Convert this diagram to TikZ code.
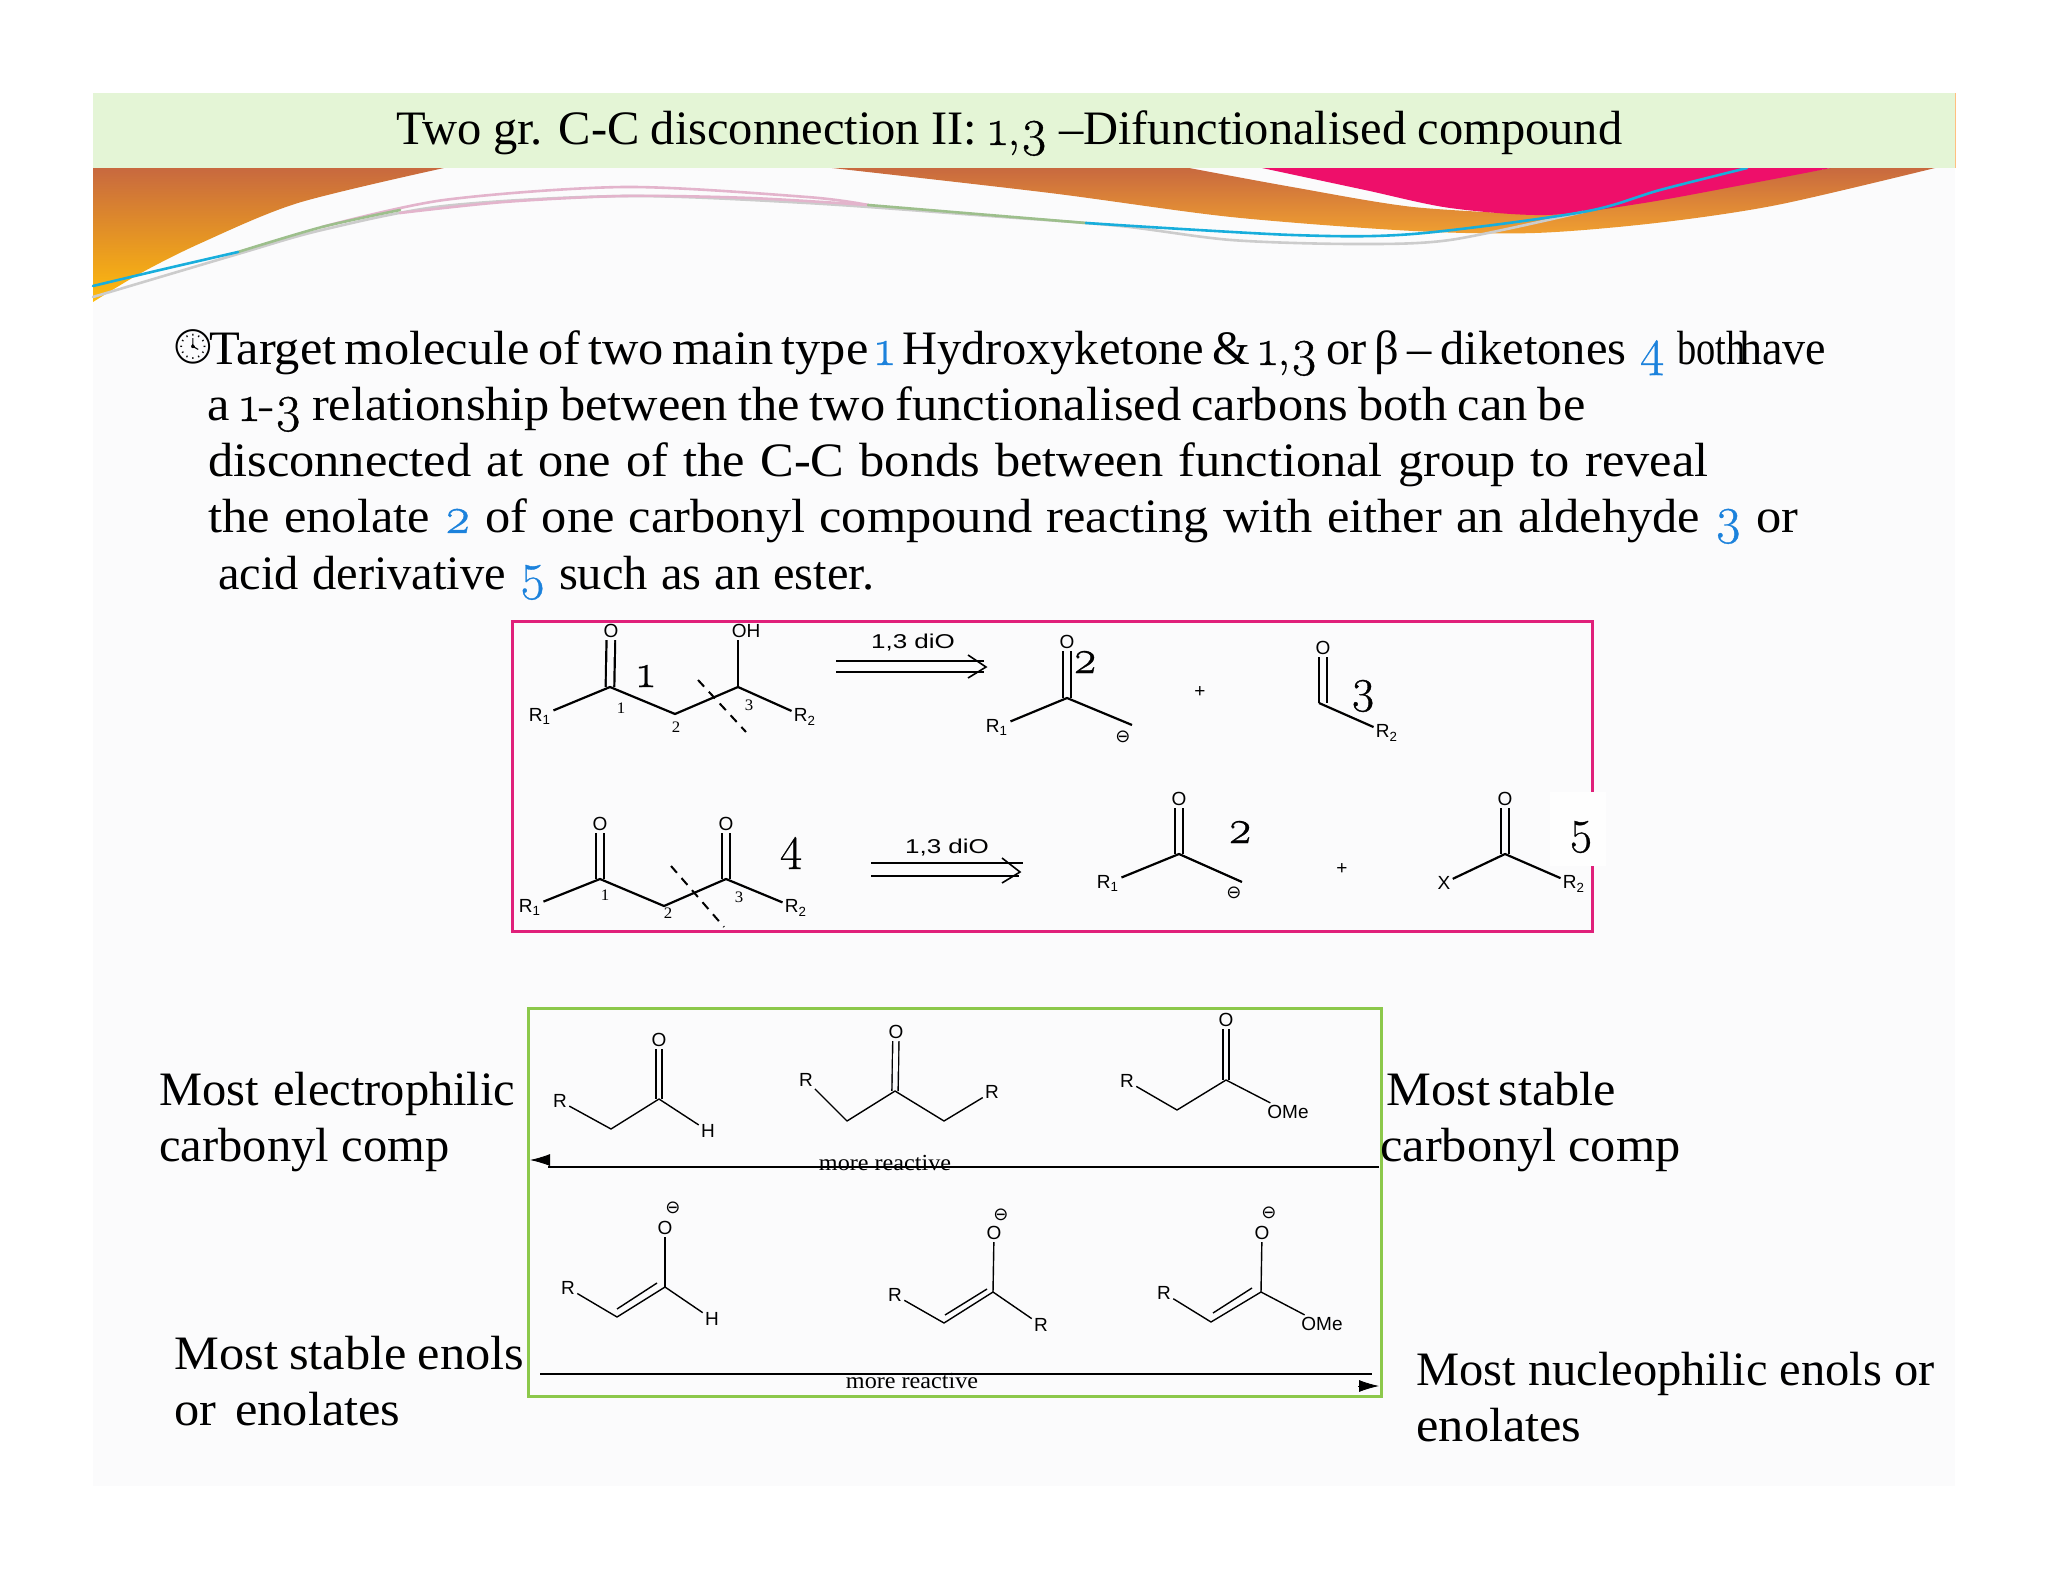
\documentclass[tikz,border=0pt]{standalone}
\usepackage{fontspec}
\usetikzlibrary{arrows.meta}
\setmainfont[FakeStretch=1.05]{Liberation Serif}
\newfontfamily\midfont[FakeStretch=1.01]{Liberation Serif}
\newfontfamily\tightfont[FakeStretch=0.8]{Liberation Serif}
\newfontfamily\havefont[FakeStretch=0.96]{Liberation Serif}
\newfontfamily\osffont[Numbers=OldStyle,Scale=1.08,FakeBold=0.7]{Latin Modern Roman}
\newfontfamily\chemfont{Liberation Sans}
\newfontfamily\chemwide[FakeStretch=1.3]{Liberation Sans}
\newfontfamily\signfont{DejaVu Sans}
\newfontfamily\emojifont{Noto Emoji}
\definecolor{slidebg}{HTML}{FBFBFC}
\definecolor{bandgreen}{HTML}{E4F5D6}
\definecolor{swooshtop}{HTML}{C8693F}
\definecolor{swooshorange}{HTML}{F0A030}
\definecolor{swooshyellow}{HTML}{FFBC0C}
\definecolor{swooshpink}{HTML}{EE0F6A}
\definecolor{framepink}{HTML}{E0207A}
\definecolor{framegreen}{HTML}{8CC84B}
\definecolor{numblue}{HTML}{1C82DC}
\definecolor{linecyan}{HTML}{18AEDC}
\definecolor{linegreen}{HTML}{9DBF8C}
\definecolor{linepink}{HTML}{E3B4CC}
\newcommand{\ofn}[1]{{\osffont #1}}
\newcommand{\bnum}[1]{{\color{numblue}\osffont #1}}
\newcommand{\fitline}[2]{\makebox[#1pt][s]{#2}}
\tikzset{
    bodytext/.style={anchor=base west,inner sep=0pt,font=\fontsize{24}{28}\selectfont},
    atom/.style={inner sep=1pt,font=\chemfont\fontsize{9.5}{11}\selectfont},
    charge/.style={inner sep=0pt,font=\signfont\fontsize{9}{10}\selectfont},
    posnum/.style={inner sep=0pt,font=\fontsize{8}{9}\selectfont},
    bignum/.style={inner sep=0pt,font=\osffont\fontsize{22}{24}\selectfont},
    retrolabel/.style={inner sep=0pt,font=\chemwide\fontsize{10}{11}\selectfont},
    morelabel/.style={inner sep=0pt,font=\fontsize{11.5}{13}\selectfont},
    bondline/.style={line width=1.1pt,line join=round},
    bondthin/.style={line width=0.7pt,line join=round},
    dblbond/.style={line width=1.1pt,double=slidebg,double distance=3.2pt},
    dblthin/.style={line width=0.7pt,double=slidebg,double distance=2.4pt},
    cutline/.style={line width=1pt,dash pattern=on 4.5pt off 3.5pt},
    retroline/.style={line width=1.1pt},
    reactline/.style={line width=0.9pt},
    reacttip/.style={-{Latex[length=10pt,width=6pt]},line width=0.4pt},
    swooshline/.style={line width=1.3pt,line cap=round},
}
\begin{document}
\begin{tikzpicture}[x=0.5pt,y=-0.5pt]
    \useasboundingbox (0,0) rectangle (2048,1582);
    \fill[white] (0,0) rectangle (2048,1582);
    \fill[slidebg] (93,93) rectangle (1955,1486);

    \shade[top color=swooshtop,bottom color=swooshyellow] (93,168) -- (444,168) -- plot[smooth] coordinates {(444,168) (298,203) (201,243) (141,273) (93,302)} -- cycle;
    \shade[top color=swooshtop,bottom color=swooshorange] plot[smooth] coordinates {(832,168) (1050,193) (1231,217) (1413,231) (1535,233) (1656,223) (1777,205) (1935,168)} -- (1831,168) -- (1547,215) -- plot[smooth] coordinates {(1547,215) (1413,207) (1292,187) (1189,168)} -- cycle;
    \fill[swooshpink] (1262,168) -- (1831,168) -- plot[smooth] coordinates {(1831,168) (1753,183) (1644,203) (1547,215) (1450,208) (1365,190) (1262,168)} -- cycle;
    \draw[swooshline,gray!40] plot[smooth] coordinates {(93,297) (238,254) (322,230) (444,206) (625,196) (807,203) (989,216) (1120,226) (1231,240) (1353,244) (1450,240) (1583,212)};
    \draw[swooshline,linepink] plot[smooth] coordinates {(322,227) (444,200) (625,187) (807,197) (868,205)};
    \draw[swooshline,linepink] plot[smooth] coordinates {(400,213) (504,202) (625,196) (750,198) (868,205)};
    \draw[swooshline,linegreen] plot[smooth] coordinates {(238,252) (322,227) (400,210)};
    \draw[swooshline,linegreen] plot[smooth] coordinates {(868,205) (989,215) (1086,223)};
    \draw[swooshline,linecyan] plot[smooth] coordinates {(93,286) (160,270) (238,252)};
    \draw[swooshline,linecyan] plot[smooth] coordinates {(1086,223) (1292,235) (1413,234) (1583,212) (1660,190) (1747,168)};

    \fill[bandgreen] (93,93) rectangle (1955,168);
    \draw[line width=0.5pt,orange!50] (1955,93) -- (1955,168);
    \node[bodytext,font=\midfont\fontsize{24}{28}\selectfont] (title) at (396,145) {\fitline{613}{Two gr. C-C disconnection II: \ofn{1,3} –Difunctionalised compound}};

    \node[inner sep=0pt,font=\emojifont\fontsize{17}{18}\selectfont] (clock) at (193,347) {🕓};
    \node[bodytext] (lineA) at (209,365) {\fitline{326}{Target molecule of two main type}};
    \node[bodytext] (numA) at (875,365) {\bnum{1}};
    \node[bodytext,font=\midfont\fontsize{24}{28}\selectfont] (lineB) at (902,365) {\fitline{362}{Hydroxyketone \& \ofn{1,3} or β – diketones}};
    \node[bodytext] (numB) at (1639,365) {\bnum{4}};
    \node[bodytext,font=\tightfont\fontsize{24}{28}\selectfont] (lineC) at (1677,365) {both};
    \node[bodytext,font=\havefont\fontsize{24}{28}\selectfont] (lineD) at (1739,365) {have};
    \node[bodytext] (lineE) at (207,421) {\fitline{689}{a \ofn{1-3} relationship between the two functionalised carbons both can be}};
    \node[bodytext] (lineF) at (208,477) {\fitline{750}{disconnected at one of the C-C bonds between functional group to reveal}};
    \node[bodytext] (lineG) at (208,533) {\fitline{795}{the enolate \bnum{2} of one carbonyl compound reacting with either an aldehyde \bnum{3} or}};
    \node[bodytext,font=\midfont\fontsize{24}{28}\selectfont] (lineH) at (218,589) {\fitline{328}{acid derivative \bnum{5} such as an ester.}};

    \draw[framepink,line width=1.5pt] (512,621) rectangle (1592,931);
    \node[fill=slidebg!30!white,inner sep=0pt,minimum width=28pt,minimum height=37pt] (boxfive) at (1578,829) {};
    \node[bignum] (numfive) at (1581,837) {5};

    \node[atom] (o1a) at (611,631) {O};
    \coordinate (c1a) at (610,687);
    \coordinate (c2a) at (675,714);
    \coordinate (c3a) at (738,687);
    \node[atom] (r1a) at (540,716) {R\textsubscript{1}};
    \node[atom] (oha) at (746,631) {OH};
    \node[atom] (r2a) at (805,717) {R\textsubscript{2}};
    \draw[dblbond] (o1a) -- (c1a);
    \draw[bondline] (r1a) -- (c1a) -- (c2a) -- (c3a) -- (r2a);
    \draw[bondline] (738,640) -- (c3a);
    \coordinate (cutAs) at (698,680);
    \coordinate (cutAe) at (746,732);
    \draw[cutline] (cutAs) -- (cutAe);
    \node[bignum] (numone) at (646,676) {1};
    \node[posnum] (posAa) at (621,708) {1};
    \node[posnum] (posAb) at (676,727) {2};
    \node[posnum] (posAc) at (749,705) {3};

    \coordinate (retAa) at (836,661);
    \coordinate (retAb) at (984,661);
    \coordinate (retAc) at (836,672);
    \coordinate (retAd) at (984,672);
    \coordinate (retAt) at (986,667);
    \coordinate (retAu) at (968,655);
    \coordinate (retAv) at (968,678);
    \draw[retroline] (retAa) -- (retAb);
    \draw[retroline] (retAc) -- (retAd);
    \draw[line width=0.8pt] (retAu) -- (retAt) -- (retAv);
    \node[retrolabel] (retAl) at (913,643) {1,3 diO};

    \node[atom] (o1b) at (1067,642) {O};
    \coordinate (c1b) at (1067,698);
    \coordinate (c2b) at (1132,725);
    \node[atom] (r1b) at (997,727) {R\textsubscript{1}};
    \node[charge] (minb) at (1123,737) {⊖};
    \draw[dblbond] (o1b) -- (c1b);
    \draw[bondline] (r1b) -- (c1b) -- (c2b);
    \node[bignum] (numtwoa) at (1085,662) {2};
    \node[atom] (plusa) at (1200,692) {+};

    \node[atom] (o1c) at (1323,648) {O};
    \coordinate (c1c) at (1323,703);
    \node[atom] (r2c) at (1387,733) {R\textsubscript{2}};
    \draw[dblbond] (o1c) -- (c1c);
    \draw[bondline] (1319,703) -- (r2c);
    \node[bignum] (numthree) at (1363,696) {3};

    \node[atom] (o1d) at (600,824) {O};
    \node[atom] (o3d) at (726,824) {O};
    \coordinate (c1d) at (600,879);
    \coordinate (c2d) at (664,906);
    \coordinate (c3d) at (726,879);
    \node[atom] (r1d) at (530,907) {R\textsubscript{1}};
    \node[atom] (r2d) at (796,908) {R\textsubscript{2}};
    \draw[dblbond] (o1d) -- (c1d);
    \draw[dblbond] (o3d) -- (c3d);
    \draw[bondline] (r1d) -- (c1d) -- (c2d) -- (c3d) -- (r2d);
    \coordinate (cutBs) at (671,866);
    \coordinate (cutBe) at (724,927);
    \draw[cutline] (cutBs) -- (cutBe);
    \node[bignum] (numfour) at (791,853) {4};
    \node[posnum] (posBa) at (605,895) {1};
    \node[posnum] (posBb) at (668,913) {2};
    \node[posnum] (posBc) at (739,897) {3};

    \coordinate (retBa) at (871,863);
    \coordinate (retBb) at (1023,863);
    \coordinate (retBc) at (871,876);
    \coordinate (retBd) at (1019,876);
    \coordinate (retBt) at (1020,872);
    \coordinate (retBu) at (1002,858);
    \coordinate (retBv) at (1002,883);
    \draw[retroline] (retBa) -- (retBb);
    \draw[retroline] (retBc) -- (retBd);
    \draw[line width=0.8pt] (retBu) -- (retBt) -- (retBv);
    \node[retrolabel] (retBl) at (947,848) {1,3 diO};

    \node[atom] (o1e) at (1179,799) {O};
    \coordinate (c1e) at (1179,854);
    \coordinate (c2e) at (1242,882);
    \node[atom] (r1e) at (1108,883) {R\textsubscript{1}};
    \node[charge] (mine) at (1234,893) {⊖};
    \draw[dblbond] (o1e) -- (c1e);
    \draw[bondline] (r1e) -- (c1e) -- (c2e);
    \node[bignum] (numtwob) at (1240,832) {2};
    \node[atom] (plusb) at (1342,869) {+};

    \node[atom] (o1f) at (1505,799) {O};
    \coordinate (c1f) at (1505,854);
    \node[atom] (xf) at (1444,883) {X};
    \node[atom] (r2f) at (1574,884) {R\textsubscript{2}};
    \draw[dblbond] (o1f) -- (c1f);
    \draw[bondline] (xf) -- (c1f) -- (r2f);

    \draw[framegreen,line width=1.5pt] (528,1008) rectangle (1381,1396);

    \node[atom] (og) at (659,1040) {O};
    \coordinate (cg) at (659,1099);
    \coordinate (ag) at (611,1129);
    \node[atom] (rg) at (560,1101) {R};
    \node[atom] (hg) at (708,1131) {H};
    \draw[dblthin] (og) -- (cg);
    \draw[bondthin] (rg) -- (ag) -- (cg) -- (hg);

    \node[atom] (oh) at (896,1032) {O};
    \coordinate (ch) at (895,1091);
    \coordinate (ah) at (847,1121);
    \coordinate (bh) at (944,1121);
    \node[atom] (rh) at (806,1080) {R};
    \node[atom] (sh) at (992,1092) {R};
    \draw[dblthin] (oh) -- (ch);
    \draw[bondthin] (rh) -- (ah) -- (ch) -- (bh) -- (sh);

    \node[atom] (oi) at (1226,1020) {O};
    \coordinate (ci) at (1226,1080);
    \coordinate (ai) at (1177,1110);
    \node[atom] (ri) at (1127,1081) {R};
    \node[atom] (mi) at (1288,1112) {OMe};
    \draw[dblthin] (oi) -- (ci);
    \draw[bondthin] (ri) -- (ai) -- (ci) -- (mi);

    \node[morelabel] (moreA) at (885,1163) {more reactive};
    \coordinate (arrAs) at (1379,1167);
    \coordinate (arrAe) at (548,1167);
    \coordinate (tipAs) at (549,1160);
    \coordinate (tipAe) at (530,1160);
    \draw[reactline] (arrAs) -- (arrAe);
    \draw[reacttip] (tipAs) -- (tipAe);

    \node[charge] (mj) at (673,1208) {⊖};
    \node[atom] (oj) at (665,1228) {O};
    \coordinate (cj) at (665,1287);
    \coordinate (aj) at (617,1317);
    \coordinate (dja) at (617,1309);
    \coordinate (djb) at (657,1283);
    \node[atom] (rj) at (568,1288) {R};
    \node[atom] (hj) at (712,1319) {H};
    \draw[bondthin] (oj) -- (cj);
    \draw[bondthin] (rj) -- (aj) -- (cj) -- (hj);
    \draw[bondthin] (dja) -- (djb);

    \node[charge] (mk) at (1001,1215) {⊖};
    \node[atom] (ok) at (994,1233) {O};
    \coordinate (ck) at (993,1292);
    \coordinate (ak) at (944,1323);
    \coordinate (dka) at (945,1315);
    \coordinate (dkb) at (987,1289);
    \node[atom] (rk) at (895,1295) {R};
    \node[atom] (sk) at (1041,1325) {R};
    \draw[bondthin] (ok) -- (ck);
    \draw[bondthin] (rk) -- (ak) -- (ck) -- (sk);
    \draw[bondthin] (dka) -- (dkb);

    \node[charge] (ml) at (1269,1213) {⊖};
    \node[atom] (ol) at (1262,1233) {O};
    \coordinate (cl) at (1261,1292);
    \coordinate (al) at (1211,1322);
    \coordinate (dla) at (1213,1313);
    \coordinate (dlb) at (1252,1288);
    \node[atom] (rl) at (1164,1293) {R};
    \node[atom] (nl) at (1322,1324) {OMe};
    \draw[bondthin] (ol) -- (cl);
    \draw[bondthin] (rl) -- (al) -- (cl) -- (nl);
    \draw[bondthin] (dla) -- (dlb);

    \node[morelabel] (moreB) at (912,1381) {more reactive};
    \coordinate (arrBs) at (540,1374);
    \coordinate (arrBe) at (1372,1374);
    \coordinate (tipBs) at (1358,1386);
    \coordinate (tipBe) at (1379,1386);
    \draw[reactline] (arrBs) -- (arrBe);
    \draw[reacttip] (tipBs) -- (tipBe);

    \node[bodytext,font=\midfont\fontsize{24}{28}\selectfont] (elecA) at (159,1105) {\fitline{178}{Most electrophilic}};
    \node[bodytext,font=\midfont\fontsize{24}{28}\selectfont] (elecB) at (159,1161) {\fitline{145}{carbonyl comp}};
    \node[bodytext] (stabA) at (1386,1105) {\fitline{111}{Most stable}};
    \node[bodytext] (stabB) at (1380,1161) {\fitline{150}{carbonyl comp}};
    \node[bodytext] (enolA) at (174,1369) {\fitline{175}{Most stable enols}};
    \node[bodytext] (enolB) at (174,1425) {\fitline{113}{or enolates}};
    \node[bodytext,font=\midfont\fontsize{24}{28}\selectfont] (nuclA) at (1416,1385) {\fitline{259}{Most nucleophilic enols or}};
    \node[bodytext] (nuclB) at (1416,1441) {enolates};
\end{tikzpicture}
\end{document}
